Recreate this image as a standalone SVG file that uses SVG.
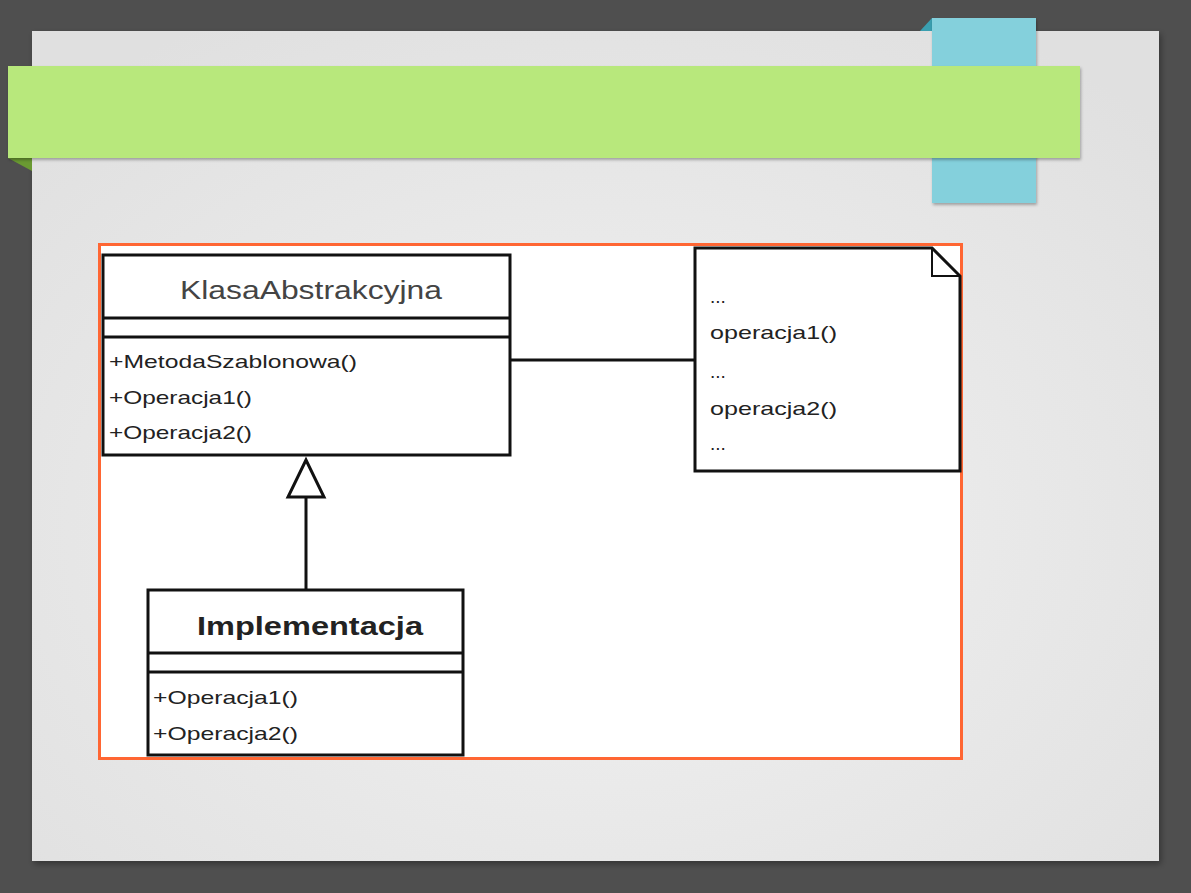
<svg xmlns="http://www.w3.org/2000/svg" width="1191" height="893" viewBox="0 0 1191 893">
<defs>
<radialGradient id="slideBg" cx="0.5" cy="0.6" r="0.7">
<stop offset="0" stop-color="#f2f2f2"/>
<stop offset="1" stop-color="#e0e0e0"/>
</radialGradient>
<filter id="sh" x="-10%" y="-10%" width="120%" height="130%">
<feDropShadow dx="2" dy="3" stdDeviation="3" flood-color="#000" flood-opacity="0.35"/>
</filter>
<filter id="sh2" x="-10%" y="-10%" width="120%" height="130%">
<feDropShadow dx="1" dy="2" stdDeviation="1.5" flood-color="#000" flood-opacity="0.3"/>
</filter>
</defs>
<style>
.box{fill:#fff;stroke:#111;stroke-width:3}
.sep{stroke:#111;stroke-width:3}
.t{font-family:"Liberation Sans",Arial,sans-serif;fill:#222}
.m{font-size:19px}
.conn{stroke:#111;stroke-width:3;fill:none}
.gen{fill:#fff;stroke:#111;stroke-width:3;stroke-linejoin:miter}
</style>
<rect x="0" y="0" width="1191" height="893" fill="#4f4f4f"/>
<rect x="32" y="31" width="1127" height="830" fill="url(#slideBg)" filter="url(#sh)"/>
<g id="blue-tab">
<polygon points="920,31 932,18 932,31" fill="#3a9fb0"/>
<rect x="932" y="18" width="104" height="185" fill="#84d0dc" filter="url(#sh2)"/>
</g>
<g id="green-banner">
<polygon points="8,158 32,158 32,171" fill="#6a9a32"/>
<rect x="8" y="66" width="1072" height="92" fill="#b8e87c" filter="url(#sh2)"/>
</g>
<rect x="99.5" y="244.5" width="862" height="514" fill="#fff" stroke="#ff6633" stroke-width="3"/>
<g id="connectors">
<line class="conn" x1="510" y1="360" x2="695" y2="360"/>
<line class="conn" x1="306" y1="590" x2="306" y2="497"/>
<polygon class="gen" points="306,460 288,497 324,497"/>
</g>
<g id="KlasaAbstrakcyjna">
<rect class="box" x="103" y="255" width="407" height="200"/>
<line class="sep" x1="103" y1="318" x2="510" y2="318"/>
<line class="sep" x1="103" y1="337" x2="510" y2="337"/>
<text class="t" x="180" y="299" font-size="26" textLength="262" lengthAdjust="spacingAndGlyphs" style="fill:#444">KlasaAbstrakcyjna</text>
<text class="t m" x="109" y="368" textLength="248" lengthAdjust="spacingAndGlyphs">+MetodaSzablonowa()</text>
<text class="t m" x="109" y="404" textLength="143" lengthAdjust="spacingAndGlyphs">+Operacja1()</text>
<text class="t m" x="109" y="439" textLength="143" lengthAdjust="spacingAndGlyphs">+Operacja2()</text>
</g>
<g id="note">
<path class="box" d="M695,248 L932,248 L960,276 L960,471 L695,471 Z"/>
<path d="M932,248 L932,276 L960,276" fill="none" stroke="#111" stroke-width="2"/>
<text class="t m" x="710" y="303">...</text>
<text class="t m" x="710" y="339" textLength="127" lengthAdjust="spacingAndGlyphs">operacja1()</text>
<text class="t m" x="710" y="378">...</text>
<text class="t m" x="710" y="415" textLength="127" lengthAdjust="spacingAndGlyphs">operacja2()</text>
<text class="t m" x="710" y="450">...</text>
</g>
<g id="Implementacja">
<rect class="box" x="148" y="590" width="315" height="165"/>
<line class="sep" x1="148" y1="653" x2="463" y2="653"/>
<line class="sep" x1="148" y1="672" x2="463" y2="672"/>
<text class="t" x="197" y="635" font-size="26" font-weight="bold" textLength="226" lengthAdjust="spacingAndGlyphs">Implementacja</text>
<text class="t m" x="153" y="704" textLength="145" lengthAdjust="spacingAndGlyphs">+Operacja1()</text>
<text class="t m" x="153" y="740" textLength="145" lengthAdjust="spacingAndGlyphs">+Operacja2()</text>
</g>
</svg>
